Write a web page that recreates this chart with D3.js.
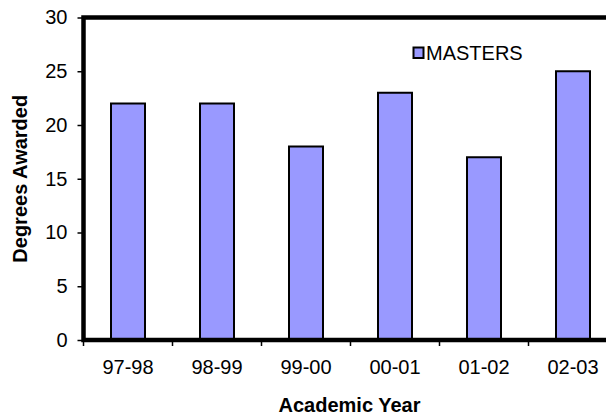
<!DOCTYPE html>
<html>
<head>
<meta charset="utf-8">
<script src="https://cdn.jsdelivr.net/npm/d3@7"></script>
<style>
  html, body { margin: 0; padding: 0; background: #fff; }
  svg { display: block; }
  text { font-family: "Liberation Sans", Arial, sans-serif; fill: #000; }
</style>
</head>
<body>
<svg id="chart" width="606" height="415"></svg>
<script>
const categories = ["97-98", "98-99", "99-00", "00-01", "01-02", "02-03"];
const masters = [22, 22, 18, 23, 17, 25];
const yTicks = [0, 5, 10, 15, 20, 25, 30];
const seriesName = "MASTERS";

(function () {
const svg = d3.select("#chart");
const pL = 83.5, pR = 617.5, pT = 17.5, pB = 340;

const x = d3.scaleBand().domain(categories).range([pL, pR])
  .paddingInner(0.618).paddingOuter(0.309);
const y = d3.scaleLinear().domain([0, 30]).range([pB, pT]);

// bars
svg.append("g").selectAll("rect").data(masters).join("rect")
  .attr("x", (d, i) => x(categories[i]))
  .attr("y", d => y(d))
  .attr("width", x.bandwidth())
  .attr("height", d => y(0) - y(d))
  .attr("fill", "#9999FF")
  .attr("stroke", "#000")
  .attr("stroke-width", 2);

// y axis
const yAxis = d3.axisLeft(y).tickValues(yTicks).tickSize(6).tickPadding(10);
const gy = svg.append("g").attr("transform", `translate(${pL},0)`).call(yAxis);
gy.select(".domain").remove();
gy.selectAll(".tick line").attr("stroke", "#000").attr("stroke-width", 1.5);
gy.selectAll(".tick text").attr("font-size", 20).attr("font-family", "Liberation Sans, Arial, sans-serif");

// x axis ticks at category boundaries
const xb = d3.scaleLinear().domain([0, categories.length]).range([pL, pR]);
svg.append("g").selectAll("line").data(d3.range(categories.length + 1)).join("line")
  .attr("x1", d => xb(d)).attr("x2", d => xb(d))
  .attr("y1", pB).attr("y2", pB + 6)
  .attr("stroke", "#000").attr("stroke-width", 1.5);
svg.append("g").selectAll("text").data(categories).join("text")
  .attr("x", d => x(d) + x.bandwidth() / 2)
  .attr("y", 374)
  .attr("text-anchor", "middle")
  .attr("font-size", 20)
  .text(d => d);

// frame
svg.append("rect")
  .attr("x", pL).attr("y", pT)
  .attr("width", pR - pL).attr("height", pB - pT)
  .attr("fill", "none").attr("stroke", "#000").attr("stroke-width", 4.5);

// legend
const lg = svg.append("g");
lg.append("rect").attr("x", 413.5).attr("y", 47.5).attr("width", 10).attr("height", 10.5)
  .attr("fill", "#9999FF").attr("stroke", "#000").attr("stroke-width", 2);
lg.append("text").attr("x", 426).attr("y", 59.5).attr("font-size", 20).text(seriesName);

// axis titles
svg.append("text")
  .attr("x", (pL + pR) / 2 - 1).attr("y", 412)
  .attr("text-anchor", "middle").attr("font-size", 20).attr("font-weight", "bold")
  .text("Academic Year");
svg.append("text")
  .attr("transform", `translate(27,${(pT + pB) / 2}) rotate(-90)`)
  .attr("text-anchor", "middle").attr("font-size", 20).attr("font-weight", "bold")
  .text("Degrees Awarded");
})();
</script>
</body>
</html>
